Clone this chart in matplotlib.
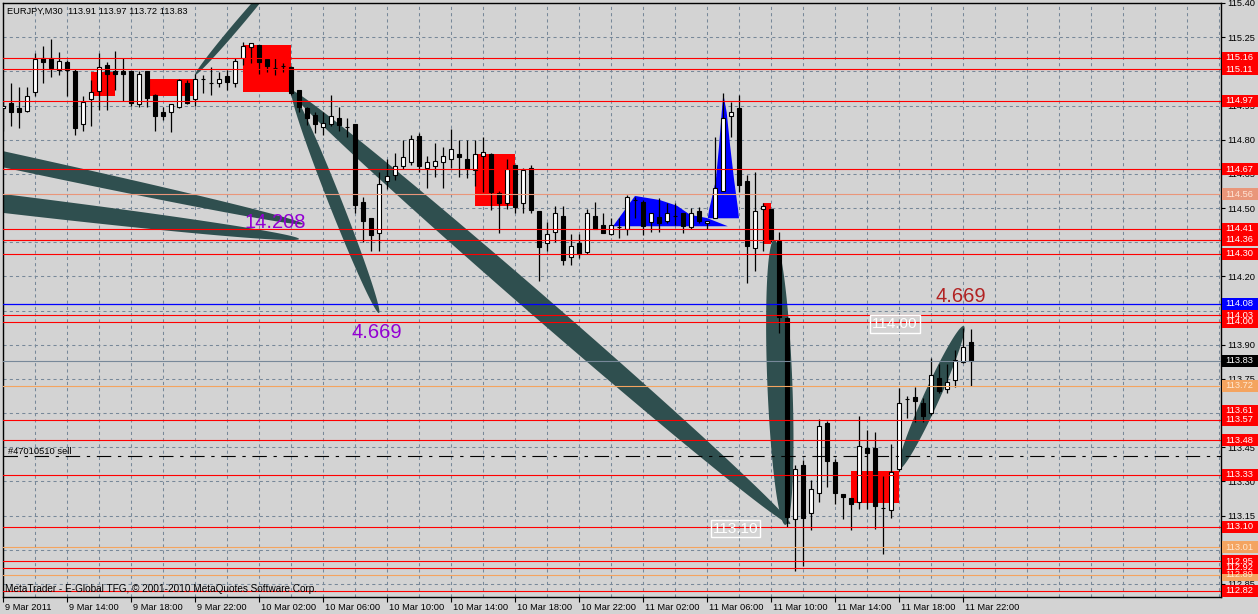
import numpy as np
import matplotlib.pyplot as plt
from matplotlib.patches import Rectangle
from matplotlib.transforms import ScaledTranslation, blended_transform_factory

plt.rcParams['font.family'] = ['Liberation Sans', 'DejaVu Sans']

# ---------------- data (EURJPY M30, 9 Mar 10:00 .. 11 Mar 22:30) ----------------
opens = [114.94, 114.96, 114.94, 114.925, 115.01, 115.16, 115.16, 115.105, 115.14, 115.10,
         114.87, 114.98, 115.015, 115.13, 115.10, 115.10, 115.10, 114.955, 115.10, 114.995,
         114.92, 114.92, 114.945, 115.05, 114.98, 115.065, 115.05, 115.05, 115.08, 115.05,
         115.16, 115.205, 115.215, 115.155, 115.115, 115.125, 115.12, 115.02, 114.94, 114.91,
         114.855, 114.87, 114.895, 114.855, 114.87, 114.525, 114.455, 114.39, 114.62, 114.645,
         114.685, 114.70, 114.815, 114.675, 114.685, 114.70, 114.715, 114.735, 114.715, 114.665,
         114.73, 114.735, 114.565, 114.52, 114.69, 114.52, 114.675, 114.485, 114.345, 114.395,
         114.465, 114.285, 114.345, 114.305, 114.465, 114.425, 114.385, 114.415, 114.41, 114.535,
         114.525, 114.44, 114.46, 114.445, 114.465, 114.48, 114.415, 114.485, 114.435, 114.455,
         114.575, 114.905, 114.94, 114.62, 114.325, 114.495, 114.495, 114.355, 114.015, 113.135,
         113.37, 113.16, 113.25, 113.555, 113.385, 113.245, 113.225, 113.21, 113.445, 113.445,
         113.185, 113.175, 113.355, 113.66, 113.67, 113.645, 113.60, 113.755, 113.705, 113.745,
         113.825, 113.91]
highs = [114.97, 115.05, 115.03, 115.03, 115.18, 115.21, 115.24, 115.185, 115.15, 115.11,
         114.99, 115.06, 115.18, 115.14, 115.19, 115.16, 115.10, 115.10, 115.10, 115.00,
         114.945, 114.955, 115.065, 115.06, 115.09, 115.085, 115.12, 115.095, 115.105, 115.16,
         115.23, 115.225, 115.215, 115.16, 115.16, 115.135, 115.125, 115.02, 114.945, 114.92,
         114.92, 114.995, 114.945, 114.895, 114.87, 114.55, 114.455, 114.66, 114.715, 114.74,
         114.80, 114.82, 114.83, 114.73, 114.785, 114.77, 114.845, 114.80, 114.80, 114.80,
         114.81, 114.74, 114.575, 114.715, 114.69, 114.675, 114.69, 114.485, 114.44, 114.51,
         114.51, 114.385, 114.385, 114.495, 114.525, 114.48, 114.455, 114.455, 114.555, 114.55,
         114.535, 114.48, 114.545, 114.52, 114.52, 114.48, 114.50, 114.505, 114.445, 114.81,
         115.005, 114.965, 114.995, 114.645, 114.66, 114.52, 114.495, 114.395, 114.02, 113.37,
         113.395, 113.305, 113.575, 113.565, 113.40, 113.245, 113.225, 113.585, 113.525, 113.515,
         113.325, 113.465, 113.71, 113.675, 113.715, 113.665, 113.84, 113.815, 113.815, 113.875,
         113.975, 113.97]
lows = [114.84, 114.86, 114.85, 114.92, 114.99, 115.05, 115.075, 115.085, 114.99, 114.82,
        114.84, 114.86, 114.93, 114.93, 115.02, 114.97, 114.95, 114.945, 114.945, 114.84,
        114.885, 114.835, 114.94, 114.955, 114.95, 115.005, 114.995, 115.03, 115.02, 115.03,
        115.13, 115.135, 115.09, 115.095, 115.085, 115.095, 114.995, 114.92, 114.865, 114.83,
        114.82, 114.86, 114.84, 114.81, 114.48, 114.35, 114.31, 114.31, 114.585, 114.625,
        114.67, 114.69, 114.66, 114.59, 114.635, 114.59, 114.675, 114.635, 114.63, 114.595,
        114.57, 114.49, 114.39, 114.495, 114.48, 114.48, 114.48, 114.18, 114.31, 114.35,
        114.25, 114.25, 114.28, 114.30, 114.41, 114.39, 114.38, 114.37, 114.38, 114.455,
        114.38, 114.395, 114.395, 114.435, 114.425, 114.39, 114.41, 114.435, 114.41, 114.455,
        114.575, 114.81, 114.57, 114.17, 114.225, 114.31, 114.35, 113.95, 113.10, 112.905,
        112.93, 113.085, 113.21, 113.275, 113.20, 113.135, 113.085, 113.18, 113.18, 113.09,
        112.98, 113.14, 113.345, 113.58, 113.56, 113.56, 113.59, 113.69, 113.69, 113.715,
        113.82, 113.72]
closes = [114.95, 114.92, 114.92, 114.99, 115.154, 115.14, 115.115, 115.145, 115.105, 114.85,
          114.965, 115.01, 115.12, 115.09, 115.09, 115.09, 114.96, 115.09, 114.985, 114.905,
          114.905, 114.955, 115.06, 114.96, 115.065, 115.065, 115.05, 115.065, 115.055, 115.145,
          115.21, 115.225, 115.14, 115.125, 115.115, 115.125, 115.005, 114.945, 114.895, 114.87,
          114.875, 114.905, 114.865, 114.855, 114.515, 114.445, 114.38, 114.605, 114.64, 114.685,
          114.725, 114.805, 114.685, 114.70, 114.705, 114.73, 114.76, 114.725, 114.67, 114.735,
          114.745, 114.57, 114.52, 114.67, 114.505, 114.665, 114.49, 114.33, 114.385, 114.48,
          114.27, 114.335, 114.30, 114.48, 114.41, 114.39, 114.425, 114.415, 114.55, 114.535,
          114.42, 114.48, 114.435, 114.48, 114.465, 114.42, 114.48, 114.445, 114.445, 114.59,
          114.895, 114.92, 114.60, 114.335, 114.485, 114.51, 114.365, 114.02, 113.145, 113.355,
          113.14, 113.265, 113.545, 113.39, 113.25, 113.23, 113.20, 113.455, 113.425, 113.19,
          113.185, 113.34, 113.645, 113.66, 113.655, 113.585, 113.765, 113.695, 113.735, 113.835,
          113.89, 113.83]

time_labels = ["9 Mar 2011", "9 Mar 14:00", "9 Mar 18:00", "9 Mar 22:00",
               "10 Mar 02:00", "10 Mar 06:00", "10 Mar 10:00", "10 Mar 14:00",
               "10 Mar 18:00", "10 Mar 22:00", "11 Mar 02:00", "11 Mar 06:00",
               "11 Mar 10:00", "11 Mar 14:00", "11 Mar 18:00", "11 Mar 22:00"]
price_ticks = [115.40, 115.25, 115.10, 114.95, 114.80, 114.65, 114.50, 114.35, 114.20,
               114.05, 113.90, 113.75, 113.60, 113.45, 113.30, 113.15, 113.00, 112.85]

# horizontal levels
red_levels = [115.16, 115.11, 114.97, 114.67, 114.41, 114.36, 114.30, 114.03, 114.00,
              113.57, 113.48, 113.33, 113.10, 112.95, 112.92, 112.82]
red_label_only = [113.61]
sandy_levels = [113.72, 113.01, 112.89]
salmon_level = 114.56
blue_level = 114.08
bid_price = 113.83
order_price = 113.41

# rectangles: (bar from, bar to, low, high)
red_boxes = [(11, 14, 114.99, 115.095), (18.4, 23.9, 114.99, 115.065),
             (30, 36, 115.01, 115.215), (59, 64, 114.51, 114.735),
             (95, 96, 114.34, 114.52), (106, 112, 113.205, 113.345)]

# blue shapes (bar, price)
blue_wedge_bars = [76.25, 79, 82.1, 84.25, 85.9, 88, 90.6]
blue_wedge_prices = [114.42, 114.553, 114.535, 114.51, 114.47, 114.456, 114.42]
blue_spike_bars = [88.1, 88.25, 89.1, 89.5, 89.84, 90.04, 90.46, 90.9, 91.4, 91.9, 92]
blue_spike_prices = [114.455, 114.49, 114.62, 114.77, 114.92, 115.0, 114.92, 114.77,
                     114.62, 114.49, 114.455]

# ellipse objects: (bar0, price0, bar1, price1, thickness px)
ellipses = [(24, 115.084, 34.6, 115.523, 7),
            (35.9, 115.018, 98.4, 113.113, 22),
            (36.1, 115.009, 47, 114.039, 13),
            (-50, 115.093, 37.5, 114.43, 16),
            (-50.5, 114.733, 37, 114.364, 19),
            (96.4, 114.36, 97.8, 113.109, 25),
            (112, 113.354, 120.1, 113.982, 16)]

# ---------------- figure ----------------
W, H = 1258, 614
BG = '#D3D3D3'
SX, SY = 8.0, 227.8        # pixels per bar, pixels per yen
FS = 6.7

fig = plt.figure(figsize=(W / 100, H / 100), dpi=100, facecolor=BG)
ax = fig.add_axes([2.5 / W, 17 / H, 1218 / W, 594 / H], facecolor=BG)
ax.set_xlim(-0.0625, 152.1875)
ax.set_ylim(112.7924, 115.40)
ax.set_axisbelow(True)

bars = np.arange(len(opens))


def draw_ellipse(b0, p0, b1, p1, w):
    """ filled MT4 ellipse object, built in pixel space """
    x0, y0, x1, y1 = b0 * SX, p0 * SY, b1 * SX, p1 * SY
    cx, cy = (x0 + x1) / 2, (y0 + y1) / 2
    L = np.hypot(x1 - x0, y1 - y0)
    a = np.arctan2(y1 - y0, x1 - x0)
    t = np.linspace(0, 2 * np.pi, 300)
    u, v = L / 2 * np.cos(t), w / 2 * np.sin(t)
    xs = cx + u * np.cos(a) - v * np.sin(a)
    ys = cy + u * np.sin(a) + v * np.cos(a)
    ax.fill(xs / SX, ys / SY, color='#2F4F4F', lw=0, zorder=2)


for e in ellipses:
    draw_ellipse(*e)

for b0, b1, lo, hi in red_boxes:
    ax.add_patch(Rectangle((b0, lo), b1 - b0, hi - lo, facecolor='#FF0000', lw=0, zorder=2.5))

ax.fill(blue_wedge_bars, blue_wedge_prices, color='#0000FF', lw=0, zorder=2.5)
ax.fill(blue_spike_bars, blue_spike_prices, color='#0000FF', lw=0, zorder=2.5)

# candles
o, h, l, c = map(np.array, (opens, highs, lows, closes))
up = c >= o
ax.vlines(bars, l, h, color='black', lw=0.9, zorder=4)
ax.bar(bars, c - o, bottom=o, width=0.62, color=np.where(up, 'white', 'black'),
       edgecolor='black', linewidth=0.8, zorder=5)

# horizontal lines
for p in red_levels:
    ax.axhline(p, color='#FF0000', lw=0.8, zorder=6)
for p in sandy_levels:
    ax.axhline(p, color='#F4A460', lw=0.8, zorder=6)
ax.axhline(salmon_level, color='#E9967A', lw=0.8, zorder=6)
ax.axhline(blue_level, color='#0000FF', lw=0.9, zorder=6)
ax.axhline(bid_price, color='#778899', lw=0.8, zorder=6)
ax.axhline(order_price, color='black', lw=0.8, linestyle=(0, (13, 6, 3, 6)), zorder=6)

# grid
ax.set_xticks(np.arange(0, 121, 8))
ax.set_xticks(np.arange(0, 153, 4), minor=True)
ax.set_xticklabels(time_labels)
ax.set_yticks(price_ticks)
ax.set_yticklabels([f"{p:.2f}" for p in price_ticks])
ax.grid(which='both', color='#778899', lw=0.75, linestyle=(0, (3, 3)))
ax.yaxis.tick_right()
ax.tick_params(axis='x', which='major', direction='out', length=3.5, width=0.8, pad=0.5,
               labelsize=FS, colors='black')
ax.tick_params(axis='x', which='minor', length=0)
ax.tick_params(axis='y', direction='out', length=3, width=0.8, pad=2, labelsize=FS)
for lbl in ax.get_xticklabels():
    lbl.set_horizontalalignment('left')
    lbl.set_transform(lbl.get_transform() + ScaledTranslation(2 / 100, 0, fig.dpi_scale_trans))
for s in ax.spines.values():
    s.set_color('black')
    s.set_linewidth(1.0)

# price labels on the right scale
trans = blended_transform_factory(ax.transAxes, ax.transData)
lx, lw_, lh = (1222 - 2.5) / 1218, 36 / 1218, 12 / SY


def price_label(p, face, txt):
    ax.add_patch(Rectangle((lx, p - lh / 2), lw_, lh, transform=trans, facecolor=face,
                           lw=0, clip_on=False, zorder=10))
    ax.text(lx + 3.5 / 1218, p, f"{p:.2f}", transform=trans, color=txt, fontsize=FS,
            va='center', ha='left', clip_on=False, zorder=11)


price_label(salmon_level, '#E9967A', '#FFE4D6')
for p in sandy_levels:
    price_label(p, '#F4A460', '#FFE8D0')
for p in sorted(red_levels + red_label_only, reverse=True):
    price_label(p, '#FF0000', 'white')
price_label(blue_level, '#0000FF', 'white')
price_label(bid_price, 'black', 'white')

# texts on the chart
ax.text(30.25, 114.413, "14.208", color='#9400D3', fontsize=14.5, va='baseline', zorder=7)
ax.text(43.6, 113.929, "4.669", color='#9400D3', fontsize=14.5, va='baseline', zorder=7)
ax.text(116.6, 114.087, "4.669", color='#B22222', fontsize=14.5, va='baseline', zorder=7)
ax.text(111.5, 113.99, "114.00", color='white', fontsize=11, ha='center', va='center', zorder=7,
        bbox=dict(boxstyle='square,pad=0.12', facecolor='none', edgecolor='white', lw=1))
ax.text(91.6, 113.093, "113.10", color='white', fontsize=11, ha='center', va='center', zorder=7,
        bbox=dict(boxstyle='square,pad=0.12', facecolor='none', edgecolor='white', lw=1))
ax.text(0.6, order_price + 0.012, "#47010510 sell", color='black', fontsize=FS,
        va='baseline', zorder=7)

fig.text(7 / W, 1 - 14 / H, "EURJPY,M30  113.91 113.97 113.72 113.83", fontsize=FS,
         color='black', va='baseline')
fig.text(5 / W, 1 - 592 / H, "MetaTrader - E-Global TFG, \u00a9 2001-2010 MetaQuotes Software Corp.",
         fontsize=7.2, color='black', va='baseline')

fig.savefig('out.png', dpi=100, facecolor=BG)
